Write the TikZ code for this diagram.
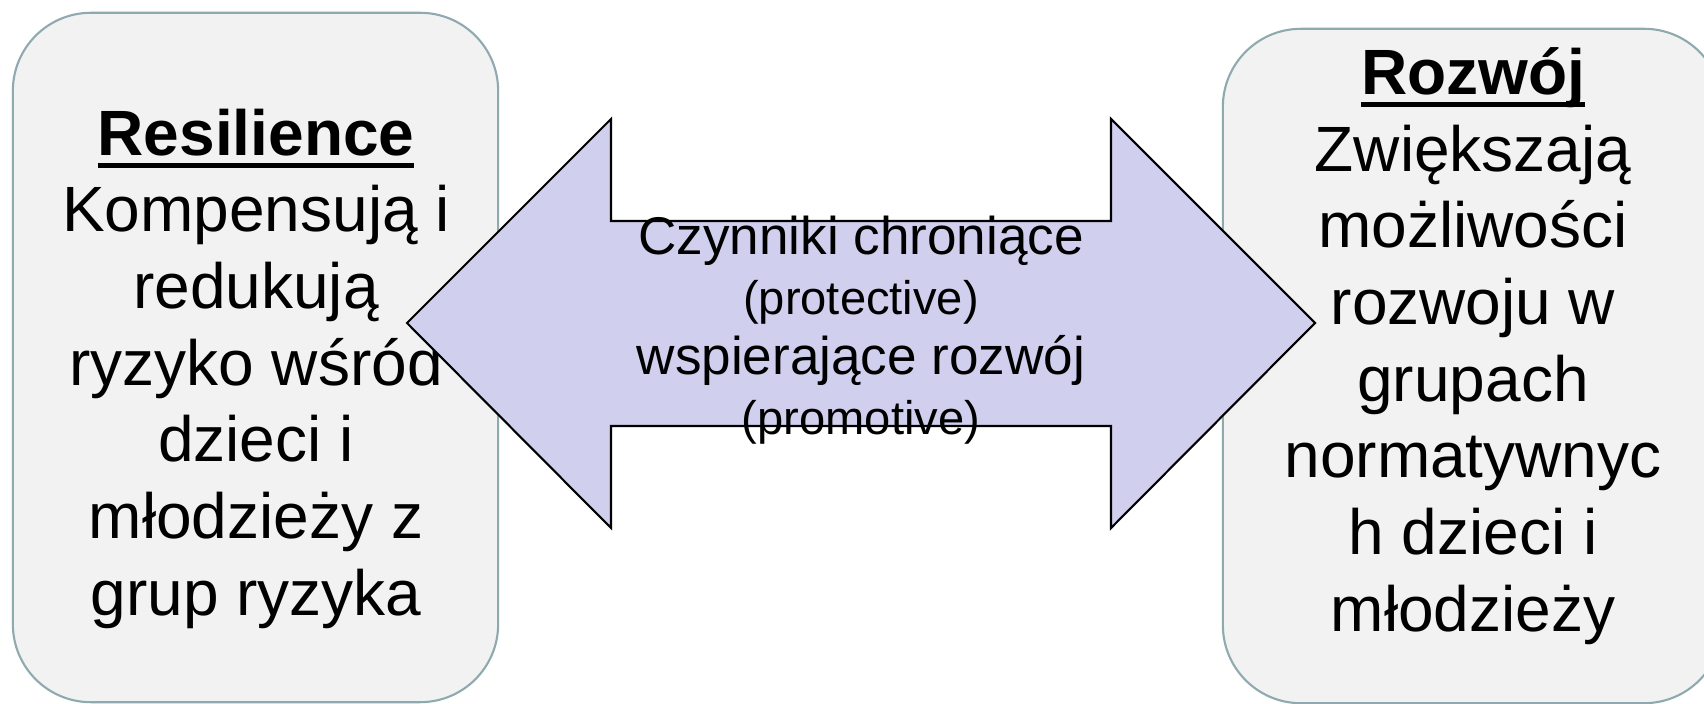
\documentclass[tikz,border=0pt]{standalone}
\usepackage{fontspec}
\setmainfont{Liberation Sans}

\definecolor{panelfill}{HTML}{F2F2F2}
\definecolor{panelline}{RGB}{143,170,174}
\definecolor{arrowfill}{HTML}{D0D0EE}

% bold heading with a rule under it
\newsavebox\headbox
\newcommand{\headword}[1]{\sbox\headbox{\bfseries #1}%
  \rlap{\rule[-0.2em]{\wd\headbox}{0.08em}}\usebox\headbox}
% smaller lines inside the arrow
\newcommand{\aside}[1]{{\fontsize{13.4}{17.1}\selectfont #1}}

\begin{document}
\begin{tikzpicture}[x=0.01cm,y=-0.01cm,
    panel/.style={draw=panelline,line width=0.6pt,fill=panelfill,rounded corners=0.78cm},
    paneltext/.style={align=center,inner sep=0pt,anchor=north,
      font=\fontsize{18.2}{21.8}\selectfont},
    midtext/.style={align=center,inner sep=0pt,anchor=north,
      font=\fontsize{15.1}{17.1}\selectfont}]
  \clip (0,0) rectangle (1704,704);

  % Boxes
  \node[panel,minimum width=4.85cm,minimum height=6.89cm] (resbox) at (255.5,357.5) {};
  \node[panel,minimum width=4.99cm,minimum height=6.74cm] (devbox) at (1472.5,366) {};

  \node[paneltext] (restext) at (256,108)
    {\headword{Resilience}\\Kompensują i\\redukują\\ryzyko wśród\\dzieci i\\młodzieży z\\grup ryzyka};
  \node[paneltext] (devtext) at (1473,47)
    {\headword{Rozwój}\\Zwiększają\\możliwości\\rozwoju w\\grupach\\normatywnyc\\h dzieci i\\młodzieży};

  % Double arrow
  \draw[line width=0.6pt,fill=arrowfill]
    (407,323) -- (611,119) -- (611,221) -- (1111,221) -- (1111,119) -- (1315,323)
    -- (1111,528) -- (1111,426) -- (611,426) -- (611,528) -- cycle;
  \node[midtext] (factors) at (861,215)
    {Czynniki chroniące\\\aside{(protective)}\\wspierające rozwój\\\aside{(promotive)}};
\end{tikzpicture}
\end{document}
